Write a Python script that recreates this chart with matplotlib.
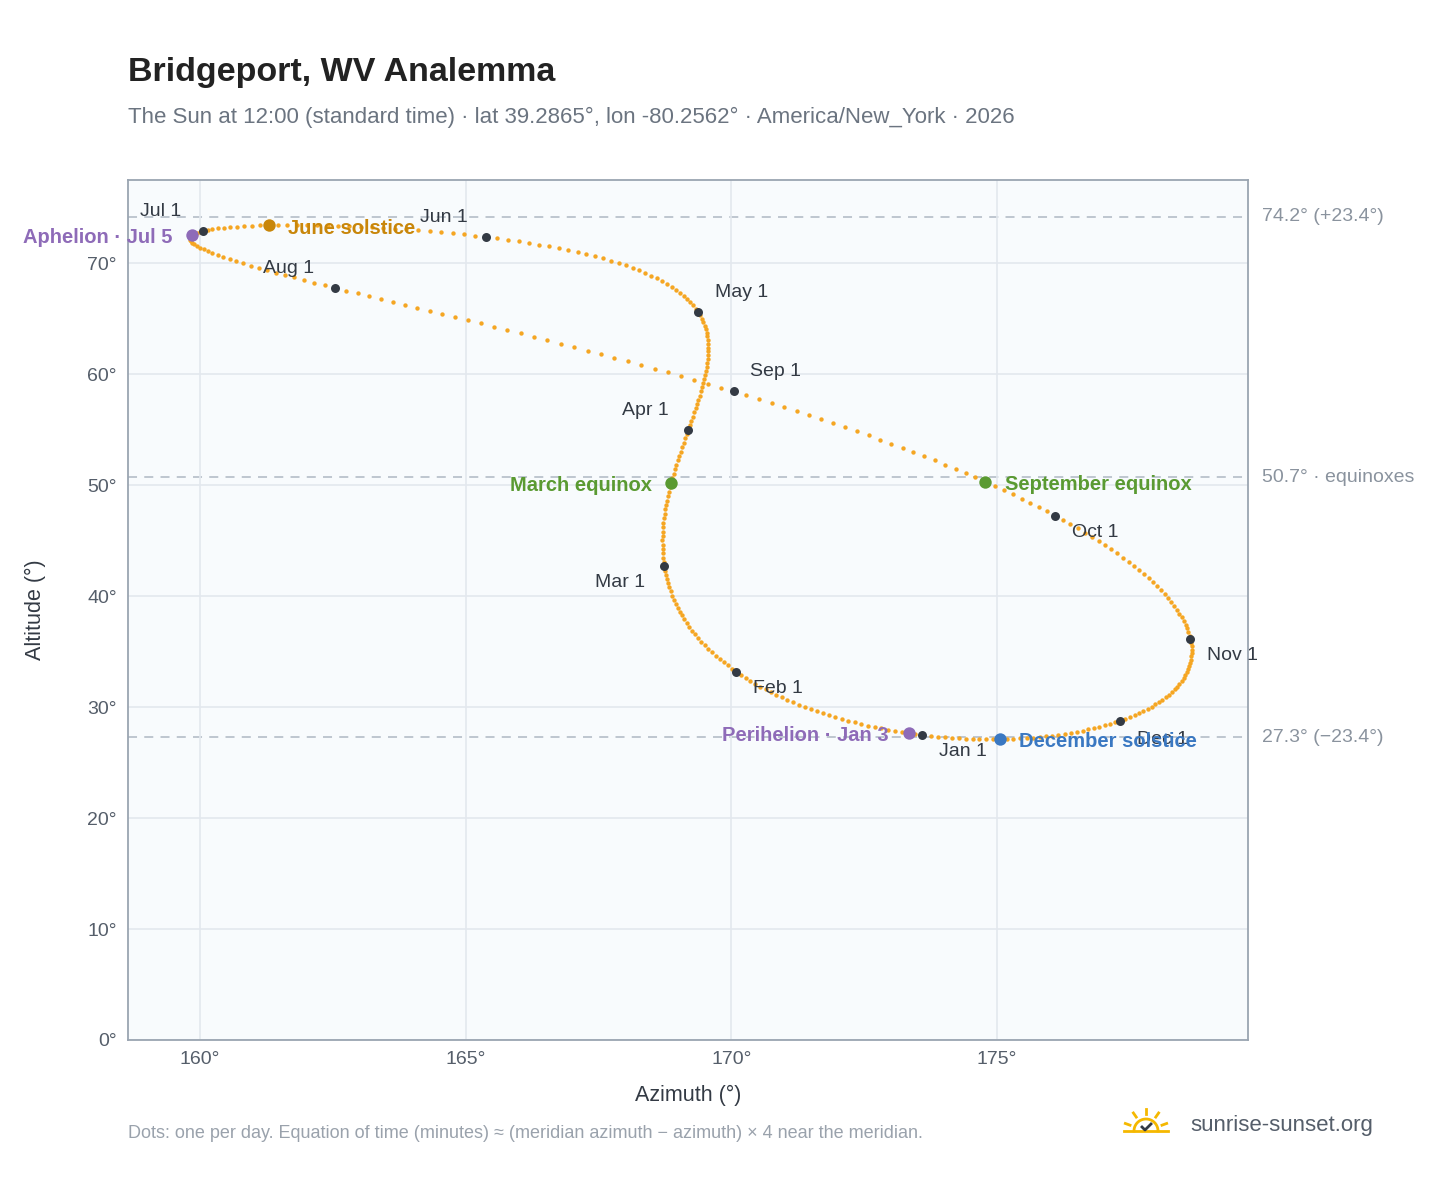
import numpy as np
import matplotlib.pyplot as plt
from datetime import date, timedelta

plt.rcParams['font.family'] = ['Liberation Sans', 'DejaVu Sans']

LAT = 39.2865
LON = -80.2562
YEAR = 2026
UTC_HOUR = 17.0  # 12:00 EST

month_names = ['Jan', 'Feb', 'Mar', 'Apr', 'May', 'Jun', 'Jul', 'Aug', 'Sep', 'Oct', 'Nov', 'Dec']
# label offsets (points) for month markers
month_off = [(12, -12), (12, -12), (-50, -12), (-48, 14), (12, 14), (-48, 14),
             (-46, 14), (-52, 14), (12, 14), (12, -12), (12, -12), (12, -14)]
events = [('Perihelion · Jan 3', date(YEAR, 1, 3), '#8e6bb8', 'right'),
          ('March equinox', date(YEAR, 3, 20), '#5a9a32', 'right'),
          ('June solstice', date(YEAR, 6, 21), '#c8860a', 'left'),
          ('Aphelion · Jul 5', date(YEAR, 7, 5), '#8e6bb8', 'right'),
          ('September equinox', date(YEAR, 9, 23), '#5a9a32', 'left'),
          ('December solstice', date(YEAR, 12, 21), '#3a78c2', 'left')]
ref_lines = [(74.2, '74.2° (+23.4°)'), (50.7, '50.7° · equinoxes'), (27.3, '27.3° (−23.4°)')]


def sun_pos(d):
    jd = d.toordinal() + 1721424.5 + UTC_HOUR / 24
    T = (jd - 2451545.0) / 36525
    L0 = (280.46646 + T * (36000.76983 + T * 0.0003032)) % 360
    M = 357.52911 + T * (35999.05029 - 0.0001537 * T)
    e = 0.016708634 - T * (0.000042037 + 0.0000001267 * T)
    Mr = np.radians(M)
    C = (np.sin(Mr) * (1.914602 - T * (0.004817 + 0.000014 * T))
         + np.sin(2 * Mr) * (0.019993 - 0.000101 * T) + np.sin(3 * Mr) * 0.000289)
    om = np.radians(125.04 - 1934.136 * T)
    lam = np.radians(L0 + C - 0.00569 - 0.00478 * np.sin(om))
    eps0 = 23 + (26 + (21.448 - T * (46.815 + T * (0.00059 - T * 0.001813))) / 60) / 60
    eps = np.radians(eps0 + 0.00256 * np.cos(om))
    dec = np.arcsin(np.sin(eps) * np.sin(lam))
    y = np.tan(eps / 2) ** 2
    L0r = np.radians(L0)
    eot = 4 * np.degrees(y * np.sin(2 * L0r) - 2 * e * np.sin(Mr)
                         + 4 * e * y * np.sin(Mr) * np.cos(2 * L0r)
                         - 0.5 * y * y * np.sin(4 * L0r) - 1.25 * e * e * np.sin(2 * Mr))
    tst = UTC_HOUR * 60 + eot + 4 * LON
    ha = np.radians(tst / 4 - 180)
    lat = np.radians(LAT)
    alt = np.degrees(np.arcsin(np.sin(lat) * np.sin(dec) + np.cos(lat) * np.cos(dec) * np.cos(ha)))
    az = np.degrees(np.arctan2(np.sin(ha), np.cos(ha) * np.sin(lat) - np.tan(dec) * np.cos(lat))) + 180
    return az, alt


days = [date(YEAR, 1, 1) + timedelta(i) for i in range(365)]
pos = np.array([sun_pos(d) for d in days])

fig = plt.figure(figsize=(14.48, 11.88), dpi=100)
ax = fig.add_axes([128 / 1448, 1 - 1040 / 1188, 1120 / 1448, 860 / 1188])
ax.set_facecolor('#f8fbfd')
ax.set_xlim(158.645, 179.72)
ax.set_ylim(0, 77.5)
ax.set_xticks([160, 165, 170, 175])
ax.set_xticklabels(['160°', '165°', '170°', '175°'])
ax.set_yticks(range(0, 80, 10))
ax.set_yticklabels([f'{v}°' for v in range(0, 80, 10)])
ax.grid(color='#e3e8ee', lw=1.2)
ax.tick_params(length=0, labelsize=14, colors='#555e6a', pad=8)
for s in ax.spines.values():
    s.set_color('#9aa5b1')
    s.set_linewidth(1.3)

for v, t in ref_lines:
    ax.axhline(v, color='#b9c2cc', ls=(0, (5, 4)), lw=1.3, zorder=1)
    ax.annotate(t, (1, v), xycoords=('axes fraction', 'data'), xytext=(10, 0),
                textcoords='offset points', va='center', fontsize=14, color='#8a939e', annotation_clip=False)

ax.scatter(pos[:, 0], pos[:, 1], s=10, color='#f5a623', zorder=2, lw=0)

for m in range(12):
    i = days.index(date(YEAR, m + 1, 1))
    ax.scatter(pos[i, 0], pos[i, 1], s=42, color='#333a44', zorder=4, lw=0)
    ax.annotate(f'{month_names[m]} 1', (pos[i, 0], pos[i, 1]), xytext=month_off[m],
                textcoords='offset points', va='center', fontsize=14, color='#333a44', zorder=5)

for name, d, c, side in events:
    i = days.index(d)
    ax.scatter(pos[i, 0], pos[i, 1], s=80, color=c, zorder=4, lw=0)
    dx = 14 if side == 'left' else -14
    ax.annotate(name, (pos[i, 0], pos[i, 1]), xytext=(dx, -2), textcoords='offset points',
                ha='left' if side == 'left' else 'right', va='center', fontsize=14.5,
                color=c, fontweight='bold', zorder=5, annotation_clip=False)

ax.set_xlabel('Azimuth (°)', fontsize=15.5, color='#333a44', labelpad=12)
ax.set_ylabel('Altitude (°)', fontsize=15.5, color='#333a44', labelpad=30)

fig.text(128 / 1448, 1 - 73 / 1188, 'Bridgeport, WV Analemma', fontsize=24.5, fontweight='bold',
         color='#222222', va='center')
fig.text(128 / 1448, 1 - 117 / 1188,
         f'The Sun at 12:00 (standard time) · lat {LAT}°, lon {LON}° · America/New_York · {YEAR}',
         fontsize=16, color='#6b7480', va='center')
fig.text(128 / 1448, 1 - 1134 / 1188,
         'Dots: one per day. Equation of time (minutes) ≈ (meridian azimuth − azimuth) × 4 near the meridian.',
         fontsize=13, color='#9aa2ac', va='center')
fig.text(1190 / 1448, 1 - 1125 / 1188, 'sunrise-sunset.org', fontsize=16, color='#555e6a', va='center')

# small sun logo
lx, ly, r = 1146, 1125, 12
la = fig.add_axes([(lx - 30) / 1448, 1 - (ly + 20) / 1188, 60 / 1448, 40 / 1188])
la.set_xlim(-30, 30)
la.set_ylim(-20, 20)
la.axis('off')
th = np.linspace(0, np.pi, 50)
la.plot(r * np.cos(th), r * np.sin(th) - 6, color='#f5b800', lw=2)
for a in np.radians([20, 55, 90, 125, 160]):
    la.plot([17 * np.cos(a), 22 * np.cos(a)], [17 * np.sin(a) - 6, 22 * np.sin(a) - 6], color='#f5b800', lw=2)
la.plot([-22, 22], [-6, -6], color='#f5b800', lw=2)
la.plot([-4, -1, 5], [-2, -5, 1], color='#333a44', lw=2)

fig.savefig('out.png', dpi=100)
